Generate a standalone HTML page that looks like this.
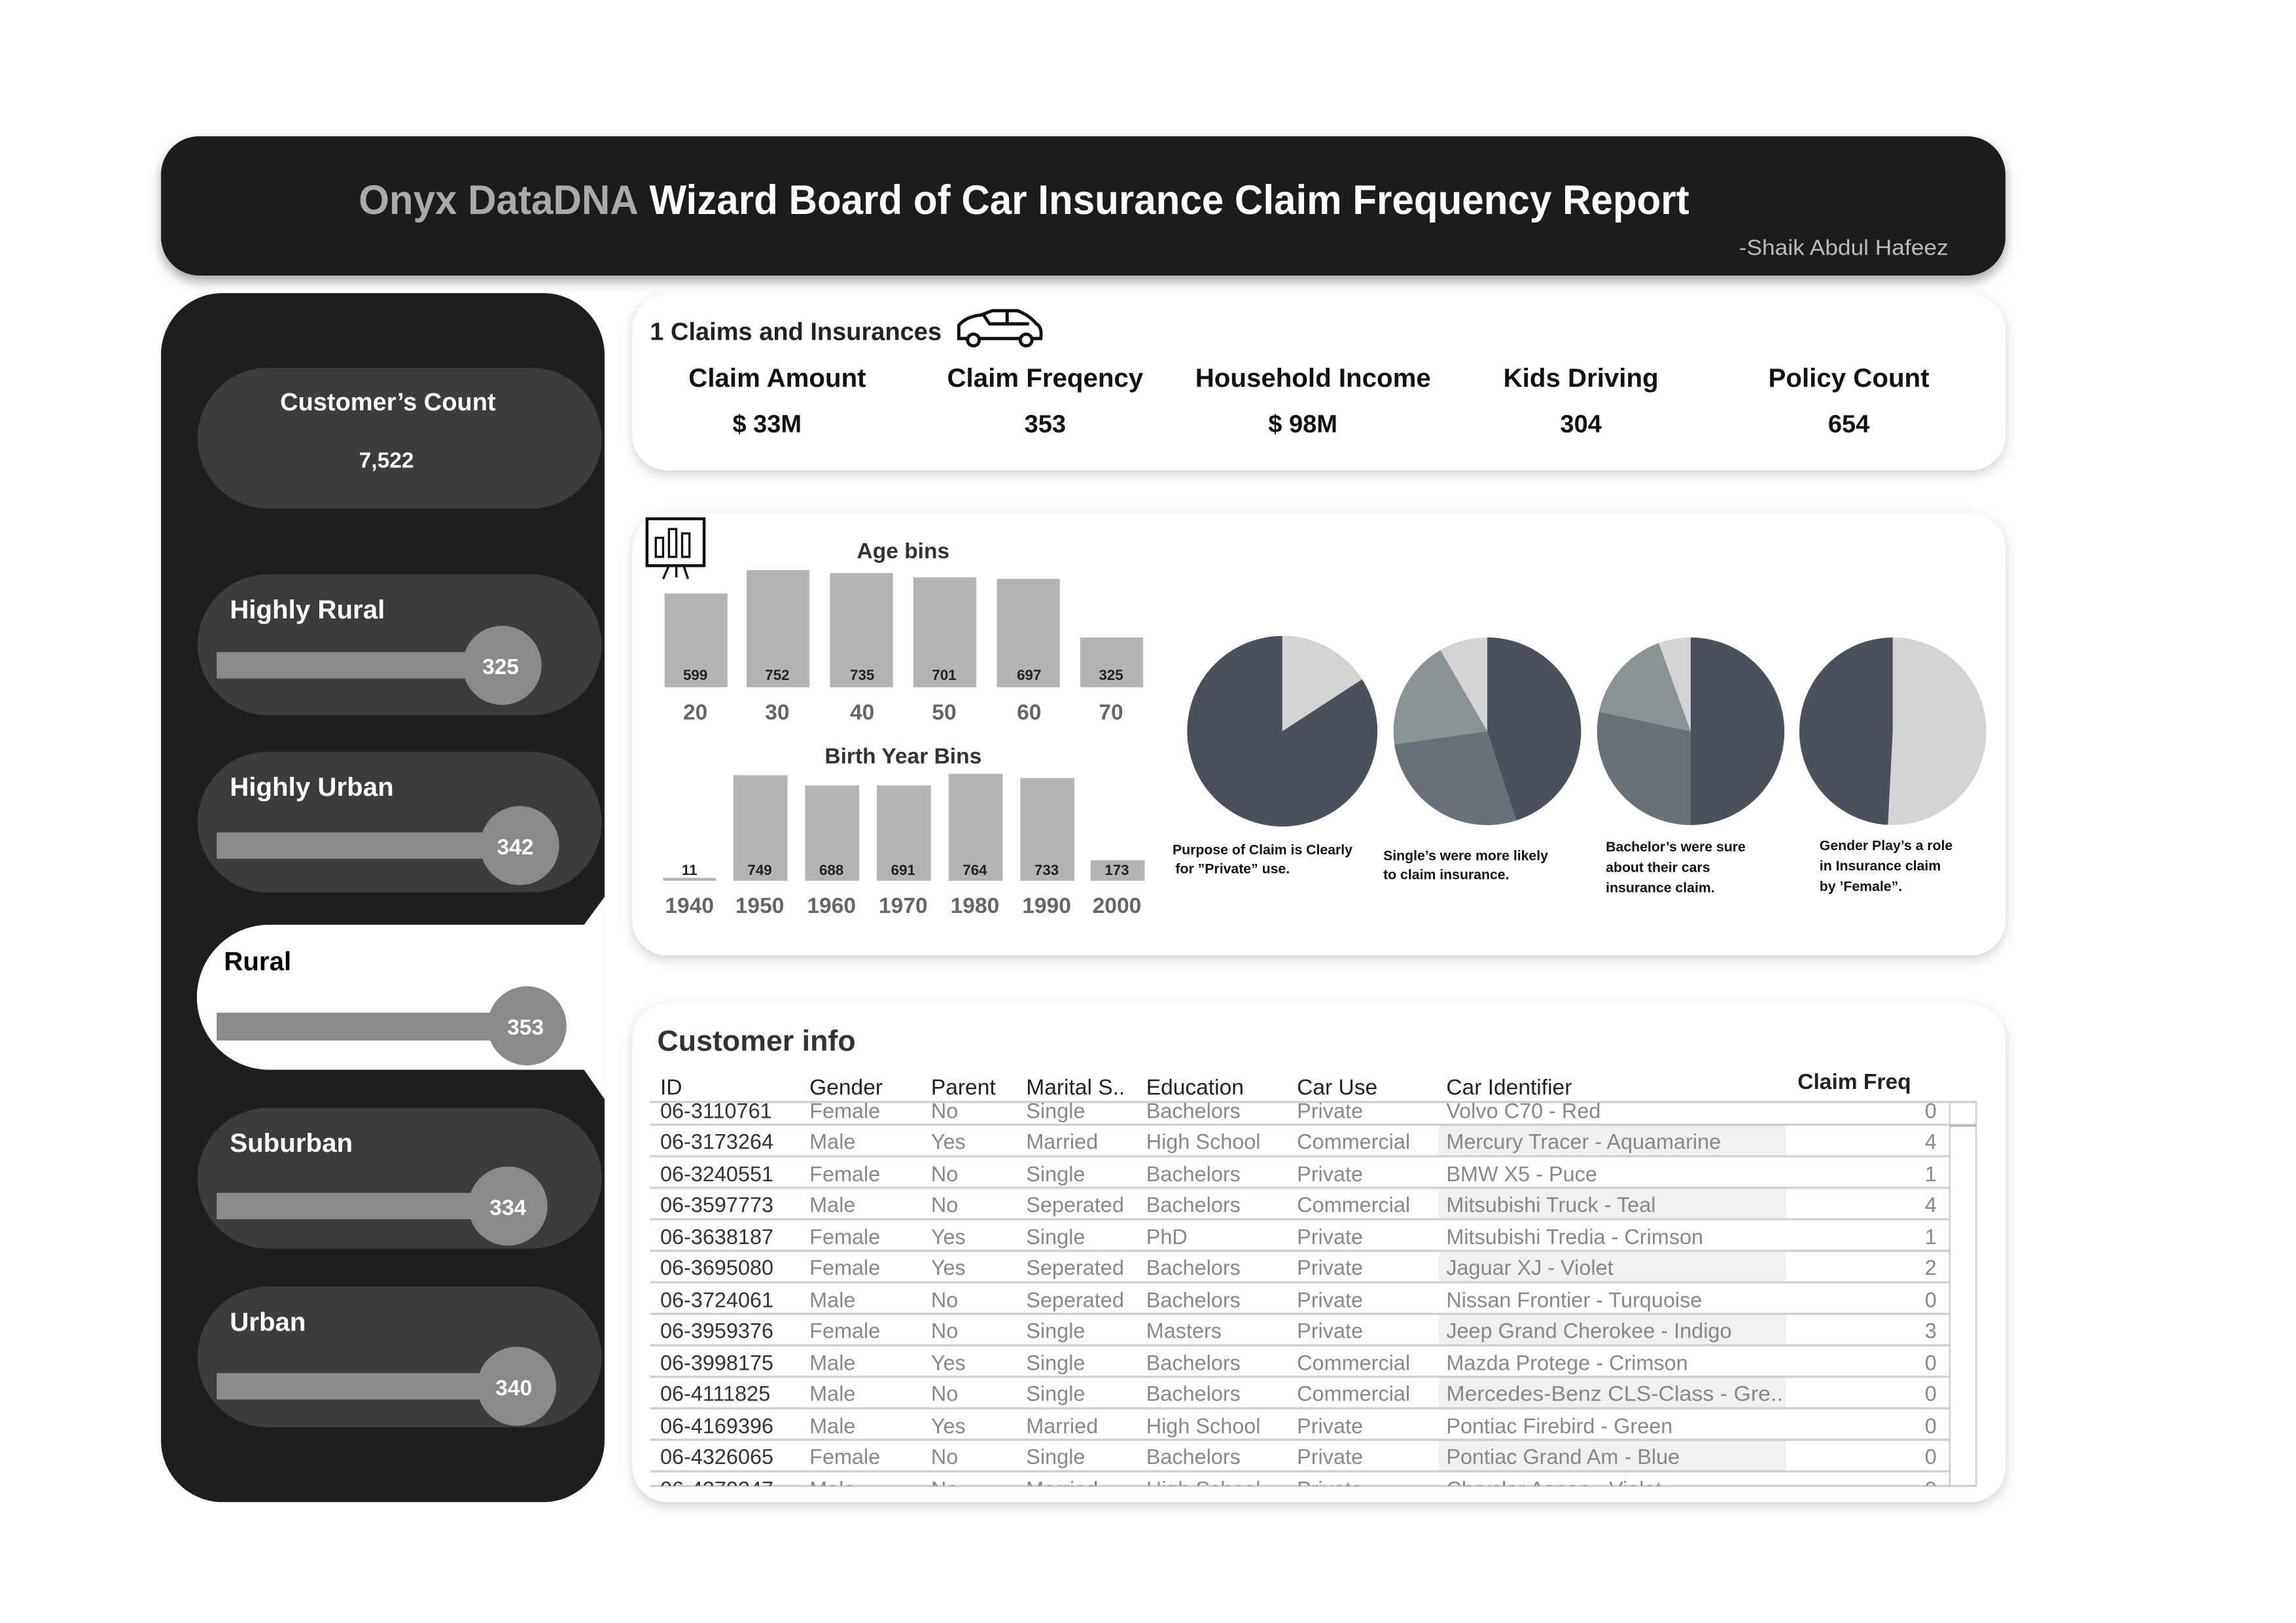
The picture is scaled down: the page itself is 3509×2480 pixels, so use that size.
<!DOCTYPE html>
<html><head><meta charset="utf-8"><style>
html,body{margin:0;padding:0;background:#fff;}
svg{display:block;}
text{font-family:"Liberation Sans",sans-serif;}
</style></head><body>
<svg width="3509" height="2480" viewBox="0 0 1568.5 1107.5" preserveAspectRatio="none" xmlns="http://www.w3.org/2000/svg">
<defs>
<filter id="sh" x="-5%" y="-10%" width="110%" height="130%"><feDropShadow dx="0" dy="4" stdDeviation="4" flood-color="#000" flood-opacity="0.35"/></filter>
<filter id="sh2" x="-5%" y="-10%" width="110%" height="130%"><feDropShadow dx="0" dy="3" stdDeviation="4" flood-color="#000" flood-opacity="0.18"/></filter>
</defs>
<rect width="1600" height="1120" fill="#fff"/>
<!-- header -->
<rect x="110" y="93" width="1260" height="95" rx="26" fill="#1e1e1e" filter="url(#sh)"/>
<text x="245" y="146" font-size="28" font-weight="bold" textLength="909" lengthAdjust="spacingAndGlyphs"><tspan fill="#aaa">Onyx DataDNA</tspan><tspan fill="#fff"> Wizard Board of Car Insurance Claim Frequency Report</tspan></text>
<text x="1331" y="174" font-size="15" fill="#bbb" text-anchor="end" textLength="143" lengthAdjust="spacingAndGlyphs">-Shaik Abdul Hafeez</text>

<!-- left panel -->
<rect x="110" y="200" width="303" height="825" rx="42" fill="#1e1e1e"/>
<rect x="135" y="251" width="276" height="96" rx="48" fill="#3c3c3c"/>
<text x="265" y="280" font-size="17" font-weight="bold" fill="#fff" text-anchor="middle">Customer’s Count</text>
<text x="264" y="319" font-size="15" font-weight="bold" fill="#fff" text-anchor="middle">7,522</text>

<rect x="135" y="392" width="276" height="96" rx="48" fill="#3c3c3c"/>
<text x="157" y="422" font-size="18" font-weight="bold" fill="#fff">Highly Rural</text>
<rect x="148" y="445" width="195" height="18" fill="#8a8a8a"/>
<circle cx="343" cy="454" r="27" fill="#8a8a8a"/>
<text x="342" y="460" font-size="15" font-weight="bold" fill="#fff" text-anchor="middle">325</text>

<rect x="135" y="513" width="276" height="96" rx="48" fill="#3c3c3c"/>
<text x="157" y="543" font-size="18" font-weight="bold" fill="#fff">Highly Urban</text>
<rect x="148" y="568" width="207" height="18" fill="#8a8a8a"/>
<circle cx="355" cy="577" r="27" fill="#8a8a8a"/>
<text x="352" y="583" font-size="15" font-weight="bold" fill="#fff" text-anchor="middle">342</text>

<path d="M184,631 L399,631 L413,612 L413,750 L399,730 L184,730 A49,49 0 0 1 184,631 Z" fill="#fff"/>
<text x="153" y="662" font-size="18" font-weight="bold" fill="#000">Rural</text>
<rect x="148" y="691" width="212" height="19" fill="#8a8a8a"/>
<circle cx="360" cy="700" r="27" fill="#8a8a8a"/>
<text x="359" y="706" font-size="15" font-weight="bold" fill="#fff" text-anchor="middle">353</text>

<rect x="135" y="756" width="276" height="96" rx="48" fill="#3c3c3c"/>
<text x="157" y="786" font-size="18" font-weight="bold" fill="#fff">Suburban</text>
<rect x="148" y="814" width="199" height="18" fill="#8a8a8a"/>
<circle cx="347" cy="823" r="27" fill="#8a8a8a"/>
<text x="347" y="829" font-size="15" font-weight="bold" fill="#fff" text-anchor="middle">334</text>

<rect x="135" y="878" width="276" height="96" rx="48" fill="#3c3c3c"/>
<text x="157" y="908" font-size="18" font-weight="bold" fill="#fff">Urban</text>
<rect x="148" y="937" width="205" height="18" fill="#8a8a8a"/>
<circle cx="353" cy="946" r="27" fill="#8a8a8a"/>
<text x="351" y="952" font-size="15" font-weight="bold" fill="#fff" text-anchor="middle">340</text>

<!-- KPI card -->
<rect x="432" y="201" width="938" height="120" rx="24" fill="#fff" filter="url(#sh2)"/>
<text x="444" y="232" font-size="17" font-weight="bold" fill="#222">1 Claims and Insurances</text>
<g fill="none" stroke="#111" stroke-width="2.2">
<path d="M655,231 L655,222 Q660,216 670,215 L678,212 L695,212 Q703,215 708,221 Q712,223 711,231 Z"/>
<path d="M672,215 L676,221 L703,221"/>
<path d="M688,212 L688,221"/>
<circle cx="665" cy="232" r="4" fill="#fff"/>
<circle cx="701" cy="232" r="4" fill="#fff"/>
</g>
<g font-size="18" font-weight="bold" fill="#111" text-anchor="middle">
<text x="531" y="264">Claim Amount</text>
<text x="714" y="264">Claim Freqency</text>
<text x="897" y="264">Household Income</text>
<text x="1080" y="264">Kids Driving</text>
<text x="1263" y="264">Policy Count</text>
</g>
<g font-size="17" font-weight="bold" fill="#111" text-anchor="middle">
<text x="524" y="295">$ 33M</text>
<text x="714" y="295">353</text>
<text x="890" y="295">$ 98M</text>
<text x="1080" y="295">304</text>
<text x="1263" y="295">654</text>
</g>

<!-- chart card -->
<rect x="432" y="350" width="938" height="302" rx="24" fill="#fff" filter="url(#sh2)"/>
<rect x="442" y="354" width="39" height="32" fill="#fff" stroke="#111" stroke-width="2"/>
<rect x="448" y="367" width="5" height="13" fill="none" stroke="#111" stroke-width="1.5"/>
<rect x="457" y="361" width="5" height="19" fill="none" stroke="#111" stroke-width="1.5"/>
<rect x="466" y="364" width="5" height="16" fill="none" stroke="#111" stroke-width="1.5"/>
<path d="M457,386 L453,395 M462,386 L462,394 M467,386 L470,395" stroke="#111" stroke-width="1.5"/>
<text x="617" y="381" font-size="15" font-weight="bold" fill="#333" text-anchor="middle">Age bins</text>
<g fill="#b4b4b4">
<rect x="454" y="405" width="43" height="64"/>
<rect x="510" y="389" width="43" height="80"/>
<rect x="567" y="391" width="43" height="78"/>
<rect x="624" y="394" width="43" height="75"/>
<rect x="681" y="395" width="43" height="74"/>
<rect x="738" y="435" width="43" height="34"/>
</g>
<g font-size="10" font-weight="bold" fill="#222" text-anchor="middle">
<text x="475" y="464">599</text><text x="531" y="464">752</text><text x="589" y="464">735</text><text x="645" y="464">701</text><text x="703" y="464">697</text><text x="759" y="464">325</text>
</g>
<g font-size="15" font-weight="bold" fill="#666" text-anchor="middle">
<text x="475" y="491">20</text><text x="531" y="491">30</text><text x="589" y="491">40</text><text x="645" y="491">50</text><text x="703" y="491">60</text><text x="759" y="491">70</text>
</g>
<text x="617" y="521" font-size="15" font-weight="bold" fill="#333" text-anchor="middle">Birth Year Bins</text>
<g fill="#b4b4b4">
<rect x="453" y="599" width="36" height="2"/>
<rect x="501" y="529" width="37" height="72"/>
<rect x="550" y="536" width="37" height="65"/>
<rect x="599" y="536" width="37" height="65"/>
<rect x="648" y="528" width="37" height="73"/>
<rect x="697" y="531" width="37" height="70"/>
<rect x="745" y="587" width="37" height="14"/>
</g>
<g font-size="10" font-weight="bold" fill="#222" text-anchor="middle">
<text x="471" y="597">11</text><text x="519" y="597">749</text><text x="568" y="597">688</text><text x="617" y="597">691</text><text x="666" y="597">764</text><text x="715" y="597">733</text><text x="763" y="597">173</text>
</g>
<g font-size="15" font-weight="bold" fill="#666" text-anchor="middle">
<text x="471" y="623">1940</text><text x="519" y="623">1950</text><text x="568" y="623">1960</text><text x="617" y="623">1970</text><text x="666" y="623">1980</text><text x="715" y="623">1990</text><text x="763" y="623">2000</text>
</g>
<!-- pies -->
<circle cx="876" cy="499" r="65" fill="#4a505c"/>
<path d="M876,499 L876,434 A65,65 0 0 1 930.5,463.6 Z" fill="#d4d4d4"/>
<circle cx="1016" cy="499" r="64" fill="#d4d4d4"/>
<path d="M1016,499 L1016,435 A64,64 0 0 1 1035.8,559.9 Z" fill="#4a505c"/>
<path d="M1016,499 L1035.8,559.9 A64,64 0 0 1 952.6,507.9 Z" fill="#687078"/>
<path d="M1016,499 L952.6,507.9 A64,64 0 0 1 984,443.6 Z" fill="#8a9393"/>
<circle cx="1155" cy="499" r="64" fill="#d4d4d4"/>
<path d="M1155,499 L1155,435 A64,64 0 0 1 1155,563 Z" fill="#4a505c"/>
<path d="M1155,499 L1155,563 A64,64 0 0 1 1092.4,485.7 Z" fill="#687078"/>
<path d="M1155,499 L1092.4,485.7 A64,64 0 0 1 1133.1,438.8 Z" fill="#8a9393"/>
<circle cx="1293" cy="499" r="64" fill="#d4d4d4"/>
<path d="M1293,499 L1289.7,562.9 A64,64 0 0 1 1293,435 Z" fill="#4a505c"/>
<g font-size="9.5" font-weight="bold" fill="#111">
<text x="801" y="583">Purpose of Claim is Clearly</text><text x="803" y="596">for ”Private” use.</text>
<text x="945" y="587">Single’s were more likely</text><text x="945" y="600">to claim insurance.</text>
<text x="1097" y="581">Bachelor’s were sure</text><text x="1097" y="595">about their cars</text><text x="1097" y="609">insurance claim.</text>
<text x="1243" y="580">Gender Play’s a role</text><text x="1243" y="594">in Insurance claim</text><text x="1243" y="608">by ’Female”.</text>
</g>

<!-- table card -->
<rect x="432" y="685" width="938" height="340" rx="24" fill="#fff" filter="url(#sh2)"/>
<text x="449" y="717" font-size="20" font-weight="bold" fill="#333">Customer info</text>
<g font-size="15" fill="#222">
<text x="451" y="747">ID</text><text x="553" y="747">Gender</text><text x="636" y="747">Parent</text><text x="701" y="747">Marital S..</text><text x="783" y="747">Education</text><text x="886" y="747">Car Use</text><text x="988" y="747">Car Identifier</text>
<text x="1228" y="743" font-weight="bold">Claim Freq</text>
</g>
<g fill="#f0f0f0">
<rect x="983" y="768" width="237" height="21"/>
<rect x="983" y="811" width="237" height="21"/>
<rect x="983" y="854" width="237" height="21"/>
<rect x="983" y="897" width="237" height="21"/>
<rect x="983" y="940" width="237" height="21"/>
<rect x="983" y="983" width="237" height="21"/>
</g>
<g stroke="#d0d0d0" stroke-width="1.5">
<line x1="444" y1="752" x2="1350" y2="752"/>
<line x1="444" y1="767.5" x2="1332" y2="767.5"/>
<line x1="444" y1="789" x2="1332" y2="789"/>
<line x1="444" y1="810.5" x2="1332" y2="810.5"/>
<line x1="444" y1="832" x2="1332" y2="832"/>
<line x1="444" y1="853.5" x2="1332" y2="853.5"/>
<line x1="444" y1="875" x2="1332" y2="875"/>
<line x1="444" y1="896.5" x2="1332" y2="896.5"/>
<line x1="444" y1="918" x2="1332" y2="918"/>
<line x1="444" y1="939.5" x2="1332" y2="939.5"/>
<line x1="444" y1="961" x2="1332" y2="961"/>
<line x1="444" y1="982.5" x2="1332" y2="982.5"/>
<line x1="444" y1="1004" x2="1332" y2="1004"/>
<line x1="444" y1="1014" x2="1350" y2="1014"/>
</g>
<rect x="1332" y="752" width="18" height="262" fill="none" stroke="#ccc" stroke-width="1"/>
<line x1="1332" y1="768" x2="1350" y2="768" stroke="#bbb" stroke-width="2"/>
<svg x="444" y="752" width="890" height="262" viewBox="444 752 890 262" overflow="hidden">
<g font-size="14.5" fill="#888">
<g fill="#333">
<text x="451" y="763">06-3110761</text><text x="451" y="784">06-3173264</text><text x="451" y="806">06-3240551</text><text x="451" y="827">06-3597773</text><text x="451" y="849">06-3638187</text><text x="451" y="870">06-3695080</text><text x="451" y="892">06-3724061</text><text x="451" y="913">06-3959376</text><text x="451" y="935">06-3998175</text><text x="451" y="956">06-4111825</text><text x="451" y="978">06-4169396</text><text x="451" y="999">06-4326065</text><text x="451" y="1021">06-4370347</text>
</g>
<text x="553" y="763">Female</text><text x="553" y="784">Male</text><text x="553" y="806">Female</text><text x="553" y="827">Male</text><text x="553" y="849">Female</text><text x="553" y="870">Female</text><text x="553" y="892">Male</text><text x="553" y="913">Female</text><text x="553" y="935">Male</text><text x="553" y="956">Male</text><text x="553" y="978">Male</text><text x="553" y="999">Female</text><text x="553" y="1021">Male</text>
<text x="636" y="763">No</text><text x="636" y="784">Yes</text><text x="636" y="806">No</text><text x="636" y="827">No</text><text x="636" y="849">Yes</text><text x="636" y="870">Yes</text><text x="636" y="892">No</text><text x="636" y="913">No</text><text x="636" y="935">Yes</text><text x="636" y="956">No</text><text x="636" y="978">Yes</text><text x="636" y="999">No</text><text x="636" y="1021">No</text>
<text x="701" y="763">Single</text><text x="701" y="784">Married</text><text x="701" y="806">Single</text><text x="701" y="827">Seperated</text><text x="701" y="849">Single</text><text x="701" y="870">Seperated</text><text x="701" y="892">Seperated</text><text x="701" y="913">Single</text><text x="701" y="935">Single</text><text x="701" y="956">Single</text><text x="701" y="978">Married</text><text x="701" y="999">Single</text><text x="701" y="1021">Married</text>
<text x="783" y="763">Bachelors</text><text x="783" y="784">High School</text><text x="783" y="806">Bachelors</text><text x="783" y="827">Bachelors</text><text x="783" y="849">PhD</text><text x="783" y="870">Bachelors</text><text x="783" y="892">Bachelors</text><text x="783" y="913">Masters</text><text x="783" y="935">Bachelors</text><text x="783" y="956">Bachelors</text><text x="783" y="978">High School</text><text x="783" y="999">Bachelors</text><text x="783" y="1021">High School</text>
<text x="886" y="763">Private</text><text x="886" y="784">Commercial</text><text x="886" y="806">Private</text><text x="886" y="827">Commercial</text><text x="886" y="849">Private</text><text x="886" y="870">Private</text><text x="886" y="892">Private</text><text x="886" y="913">Private</text><text x="886" y="935">Commercial</text><text x="886" y="956">Commercial</text><text x="886" y="978">Private</text><text x="886" y="999">Private</text><text x="886" y="1021">Private</text>
<text x="988" y="763">Volvo C70 - Red</text><text x="988" y="784">Mercury Tracer - Aquamarine</text><text x="988" y="806">BMW X5 - Puce</text><text x="988" y="827">Mitsubishi Truck - Teal</text><text x="988" y="849">Mitsubishi Tredia - Crimson</text><text x="988" y="870">Jaguar XJ - Violet</text><text x="988" y="892">Nissan Frontier - Turquoise</text><text x="988" y="913">Jeep Grand Cherokee - Indigo</text><text x="988" y="935">Mazda Protege - Crimson</text><text x="988" y="956" textLength="230" lengthAdjust="spacingAndGlyphs">Mercedes-Benz CLS-Class - Gre..</text><text x="988" y="978">Pontiac Firebird - Green</text><text x="988" y="999">Pontiac Grand Am - Blue</text><text x="988" y="1021">Chrysler Aspen - Violet</text>
<g text-anchor="end">
<text x="1323" y="763">0</text><text x="1323" y="784">4</text><text x="1323" y="806">1</text><text x="1323" y="827">4</text><text x="1323" y="849">1</text><text x="1323" y="870">2</text><text x="1323" y="892">0</text><text x="1323" y="913">3</text><text x="1323" y="935">0</text><text x="1323" y="956">0</text><text x="1323" y="978">0</text><text x="1323" y="999">0</text><text x="1323" y="1021">0</text>
</g>
</g>
</svg>
</svg>
</body></html>
